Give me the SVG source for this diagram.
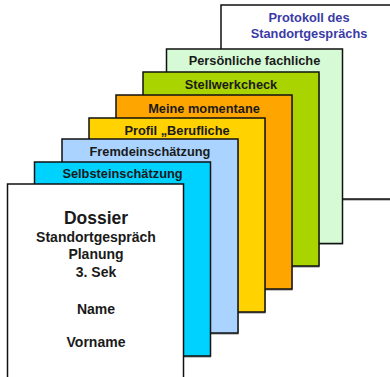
<svg xmlns="http://www.w3.org/2000/svg" width="390" height="377" viewBox="0 0 390 377">
<style>
.card{stroke:#111;stroke-width:1.5}
.sh{fill:#555;opacity:0.7}
.lbl{font-family:"Liberation Sans",Arial,sans-serif;font-weight:bold;font-size:12.8px;fill:#1a1a1a;text-anchor:middle}
.blue{fill:#3b3ba6}
.dos{font-family:"Liberation Sans",Arial,sans-serif;font-weight:bold;fill:#1a1a1a;text-anchor:middle}
</style>
<rect width="390" height="377" fill="#fff"/>
<g id="protokoll">
<rect class="sh" x="221.5" y="6.5" width="176" height="194"/>
<rect class="card" x="221" y="5" width="176" height="194" fill="#ffffff"/>
<text class="lbl blue" x="309" y="22">Protokoll des</text>
<text class="lbl blue" x="309" y="37.5">Standortgesprächs</text>
</g>
<g id="persoenliche">
<rect class="sh" x="167" y="50.5" width="176" height="194"/>
<rect class="card" x="166.5" y="49" width="176" height="194.5" fill="#d5fad5"/>
<text class="lbl" x="254.5" y="65">Persönliche fachliche</text>
</g>
<g id="stellwerkcheck">
<rect class="sh" x="143.5" y="73.5" width="176" height="194"/>
<rect class="card" x="143" y="72" width="176" height="194" fill="#aad400"/>
<text class="lbl" x="231" y="89">Stellwerkcheck</text>
</g>
<g id="momentane">
<rect class="sh" x="116.5" y="96.5" width="176" height="194"/>
<rect class="card" x="116" y="95" width="176" height="194" fill="#ffa500"/>
<text class="lbl" x="204" y="112.5">Meine momentane</text>
</g>
<g id="profil">
<rect class="sh" x="89.5" y="119.5" width="176" height="194"/>
<rect class="card" x="89" y="118" width="176" height="194" fill="#ffd200"/>
<text class="lbl" x="177" y="135">Profil „Berufliche</text>
</g>
<g id="fremd">
<rect class="sh" x="62.5" y="140.5" width="176" height="194"/>
<rect class="card" x="62" y="139" width="176" height="194" fill="#aad4ff"/>
<text class="lbl" x="150" y="155.5">Fremdeinschätzung</text>
</g>
<g id="selbst">
<rect class="sh" x="35" y="163.5" width="176" height="194"/>
<rect class="card" x="34.5" y="162" width="176" height="194" fill="#00d2ff"/>
<text class="lbl" x="122.5" y="178">Selbsteinschätzung</text>
</g>
<g id="dossier">
<rect class="sh" x="8" y="185.5" width="176" height="194"/>
<rect class="card" x="7.5" y="184" width="176" height="196" fill="#ffffff"/>
<text class="dos" x="96" y="224" font-size="17.5">Dossier</text>
<text class="dos" x="96" y="241.7" font-size="14">Standortgespräch</text>
<text class="dos" x="96" y="259.3" font-size="14">Planung</text>
<text class="dos" x="96" y="277" font-size="14">3. Sek</text>
<text class="dos" x="96" y="314" font-size="14">Name</text>
<text class="dos" x="96" y="347" font-size="14">Vorname</text>
</g>
</svg>
